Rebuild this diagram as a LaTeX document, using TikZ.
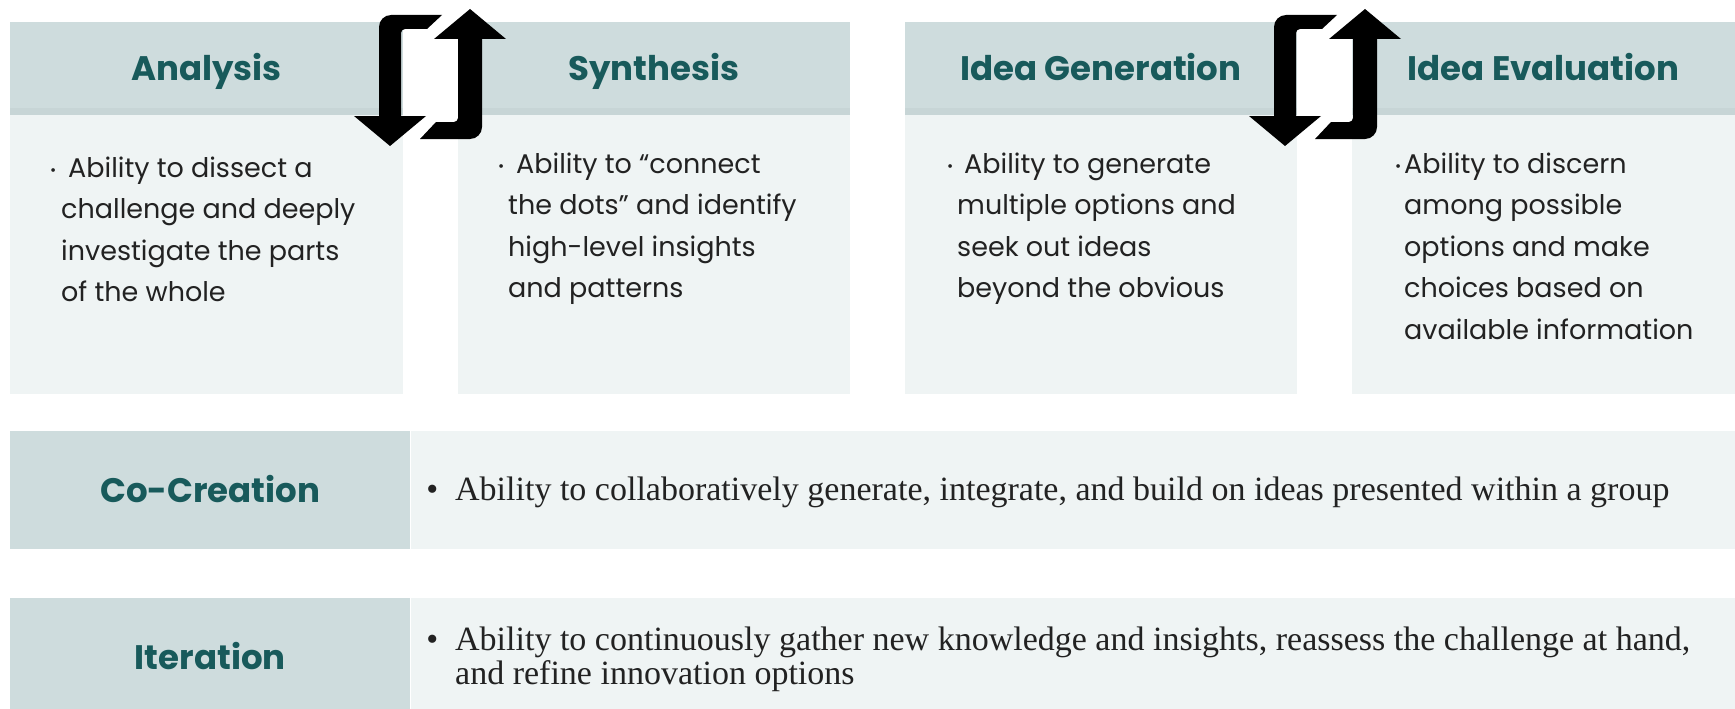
\documentclass[tikz,border=0pt]{standalone}
\usepackage{fontspec}
\setmainfont{Poppins}
\newfontfamily\rowfont{Liberation Serif}
\definecolor{headgray}{HTML}{CEDCDD}
\definecolor{bandgray}{HTML}{C7D5D6}
\definecolor{palebox}{HTML}{EFF4F4}
\definecolor{deepteal}{HTML}{185A5B}
\definecolor{inkgray}{HTML}{222222}
\newcommand{\bul}[1]{\makebox[0pt][r]{\raisebox{2pt}{\fontsize{15}{15}\selectfont\textbullet}\hspace{#1}}}
\newcommand{\sbul}{\makebox[0pt][r]{\textbullet\hspace{17pt}}}
\begin{document}
\begin{tikzpicture}[x=1pt,y=-1pt,line join=round,
  headbox/.style={fill=headgray,inner sep=0pt,text height=28pt,text depth=4pt,text=deepteal,font=\bfseries\fontsize{34}{40}\selectfont},
  bodybox/.style={fill=palebox,inner sep=0pt},
  bullets/.style={align=left,inner sep=0pt,text=inkgray,font=\fontsize{27}{41.5}\selectfont},
  rowtext/.style={align=left,inner sep=0pt,text=inkgray,font=\rowfont\fontsize{34}{34}\selectfont}]
\clip (0,0) rectangle (1735,709);
%\draw[color=gray!50] (0,0) grid[step=100] (1735,709);
\foreach \x/\w/\n/\lbl in {10/393/ana/Analysis,458/392/syn/Synthesis,905/392/gen/Idea Generation,1352/383/eva/Idea Evaluation}{
  \node[headbox,minimum width=\w pt,minimum height=93pt] (\n-h) at (\x+\w/2,68.5) {\lbl};
  \fill[bandgray] (\n-h.south west) rectangle ([yshift=7pt]\n-h.south east);
  \node[bodybox,minimum width=\w pt,minimum height=279pt,anchor=north] (\n-b) at (\n-h.south) {};
}
% base = baseline of the last line
\node[bullets,anchor=base west] (ana-t) at (61,301.5) {\hspace*{7pt}\bul{12pt}Ability to dissect a\\challenge and deeply\\investigate the parts\\of the whole};
\node[bullets,anchor=base west] (syn-t) at (508,297.5) {\hspace*{8pt}\bul{12pt}Ability to “connect\\the dots” and identify\\high-level insights\\and patterns};
\node[bullets,anchor=base west] (gen-t) at (957,297.5) {\hspace*{7pt}\bul{11pt}Ability to generate\\multiple options and\\seek out ideas\\beyond the obvious};
\node[bullets,anchor=base west] (eva-t) at (1404,339) {\bul{3pt}Ability to discern\\among possible\\options and make\\choices based on\\available information};
% rows
\node[headbox,minimum width=400pt,minimum height=118pt,anchor=north west] (cc-h) at (10,431) {Co-Creation};
\node[bodybox,minimum width=1325pt,minimum height=118pt,anchor=north west] (cc-b) at (cc-h.north east) {};
\node[rowtext,anchor=base west] (cc-t) at (455,500) {\sbul Ability to collaboratively generate, integrate, and build on ideas presented within a group};
\node[headbox,minimum width=400pt,minimum height=118pt,anchor=north west] (it-h) at (10,598) {Iteration};
\node[bodybox,minimum width=1325pt,minimum height=118pt,anchor=north west] (it-b) at (it-h.north east) {};
\node[rowtext,anchor=base west] (it-t) at (455,684) {\sbul Ability to continuously gather new knowledge and insights, reassess the challenge at hand,\\and refine innovation options};
% swap arrows
\foreach \s in {0,895}{
  \begin{scope}[shift={(\s,0)}]
  \fill (442,15) -- (391,15) arc[start angle=90,end angle=180,radius=12pt] -- (379,116) -- (354,116) -- (390,146) -- (426,116) -- (401,116) -- (401,33) arc[start angle=180,end angle=90,radius=4pt] -- (427,29) -- cycle;
  \fill (470,9) -- (506,39) -- (482,39) -- (482,127) arc[start angle=0,end angle=-90,radius=12pt] -- (420,139) -- (436,122) -- (454,122) arc[start angle=-90,end angle=0,radius=4pt] -- (458,39) -- (434,39) -- cycle;
  \end{scope}
}
\end{tikzpicture}
\end{document}
